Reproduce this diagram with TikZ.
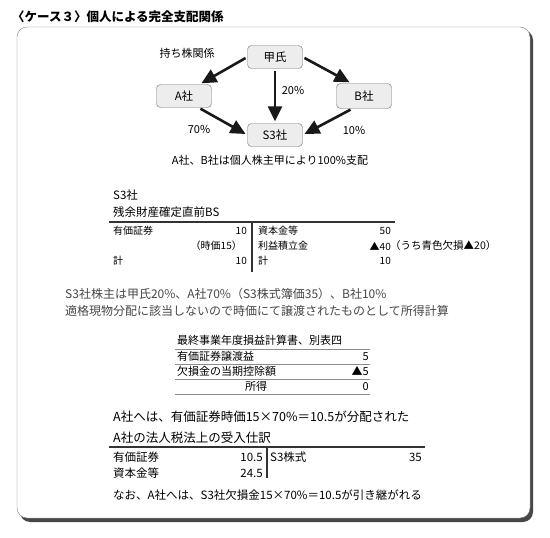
\documentclass[tikz,border=0pt]{standalone}
\usepackage{fontspec}
\setmainfont{Noto Sans CJK JP}
\usetikzlibrary{arrows.meta}

\begin{document}
\begin{tikzpicture}[x=1pt, y=-1pt,
    holder/.style={draw=black!55, fill=black!7, rounded corners=4pt, minimum width=55pt, minimum height=23pt, inner sep=0pt, font=\fontsize{11.5}{12}\selectfont},
    own/.style={-{Triangle[length=15pt,width=14pt]}, line width=2.6pt, black!90, shorten >=2pt, shorten <=2pt},
    lbl/.style={inner sep=0pt, font=\fontsize{11}{12}\selectfont},
    cell/.style={inner sep=0pt, font=\fontsize{10}{12}\selectfont},
    note/.style={lbl, font=\fontsize{12}{14}\selectfont, text=black!72},
    rule/.style={line width=1.1pt, black!80},
    thinrule/.style={line width=1pt, black!45}]
  \useasboundingbox (0,0) rectangle (550,538);
  % title and frame
  \node[lbl, anchor=west, font=\bfseries\fontsize{12.5}{14}\selectfont] (title) at (12,17) {〈ケース３〉個人による完全支配関係};
  \fill[black!72, rounded corners=10pt] (20,30) rectangle (533,522);
  \draw[black!50, fill=white, rounded corners=10pt] (17,27) rectangle (530,518);
  % holdings
  \node[lbl] (hold) at (187,53) {持ち株関係};
  \node[holder] (kou) at (275,57) {甲氏};
  \node[holder] (a) at (184,96) {A社};
  \node[holder, minimum height=25pt] (b) at (364,96) {B社};
  \node[holder] (s3) at (275,135) {S3社};
  \draw[own] (kou.west) -- ([xshift=-12pt]a.north east);
  \draw[own] (kou.east) -- ([xshift=15pt]b.north west);
  \draw[own] (kou.south) -- (s3.north);
  \draw[own] ([xshift=-13pt]a.south east) -- (s3.west);
  \draw[own] ([xshift=16pt]b.south west) -- (s3.east);
  \node[lbl] (pa) at (199,129) {70\%};
  \node[lbl] (pk) at (293,90) {20\%};
  \node[lbl] (pb) at (354,130) {10\%};
  \node[lbl] (ctrl) at (270,160) {A社、B社は個人株主甲により100\%支配};
  % balance sheet
  \node[lbl, anchor=west, font=\fontsize{11.5}{13}\selectfont] (bsco) at (113,195) {S3社};
  \node[lbl, anchor=west, font=\fontsize{11.5}{13}\selectfont] (bshead) at (113,212) {残余財産確定直前BS};
  \draw[rule] (109,222) -- (395,222);
  \draw[rule] (252,222) -- (252,272);
  \foreach \y/\item/\amt [count=\k] in {231/有価証券/10, 261/計/10} {
    \node[cell, anchor=west] (dl\k) at (113,\y) {\item};
    \node[cell, anchor=east] (dv\k) at (247,\y) {\amt};
  }
  \node[cell, anchor=east] (fair) at (242,246) {（時価15）};
  \foreach \y/\item/\amt [count=\k] in {231/資本金等/50, 246/利益積立金/▲40, 261/計/10} {
    \node[cell, anchor=west] (cl\k) at (258,\y) {\item};
    \node[cell, anchor=east] (cv\k) at (391,\y) {\amt};
  }
  \node[cell, anchor=west, font=\fontsize{10.5}{12}\selectfont] (blue) at (390,246) {（うち青色欠損▲20）};
  % notes
  \node[note, anchor=west] (share) at (65,294) {S3社株主は甲氏20\%、A社70\%（S3株式簿価35）、B社10\%};
  \node[note, anchor=west] (tax) at (65,311) {適格現物分配に該当しないので時価にて譲渡されたものとして所得計算};
  % income statement
  \node[lbl, anchor=west] (pltitle) at (177,340) {最終事業年度損益計算書、別表四};
  \foreach \y in {349,364,379,394} \draw[thinrule] (175,\y) -- (370,\y);
  \foreach \y/\x/\item/\amt [count=\k] in {356.5/177/有価証券譲渡益/5, 371.5/177/欠損金の当期控除額/▲5, 386.5/245/所得/0} {
    \node[lbl, anchor=west] (pl\k) at (\x,\y) {\item};
    \node[lbl, anchor=east] (pv\k) at (369,\y) {\amt};
  }
  % entry of A
  \node[lbl, anchor=west, font=\fontsize{12.5}{14}\selectfont] (dist) at (113,417) {A社へは、有価証券時価15×70\%＝10.5が分配された};
  \node[lbl, anchor=west, font=\fontsize{12.5}{14}\selectfont] (entry) at (113,438) {A社の法人税法上の受入仕訳};
  \draw[rule] (109,447) -- (425,447);
  \draw[rule] (267,447) -- (267,478);
  \foreach \y/\item/\amt [count=\k] in {457/有価証券/10.5, 473/資本金等/24.5} {
    \node[lbl, anchor=west, font=\fontsize{11.5}{13}\selectfont] (el\k) at (113,\y) {\item};
    \node[lbl, anchor=east, font=\fontsize{11.5}{13}\selectfont] (ev\k) at (263,\y) {\amt};
  }
  \node[lbl, anchor=west, font=\fontsize{11.5}{13}\selectfont] (er1) at (270,457) {S3株式};
  \node[lbl, anchor=east, font=\fontsize{11.5}{13}\selectfont] (erv1) at (422,457) {35};
  \node[lbl, anchor=west, font=\fontsize{11.5}{13}\selectfont] (carry) at (113,495) {なお、A社へは、S3社欠損金15×70\%＝10.5が引き継がれる};
\end{tikzpicture}
\end{document}
